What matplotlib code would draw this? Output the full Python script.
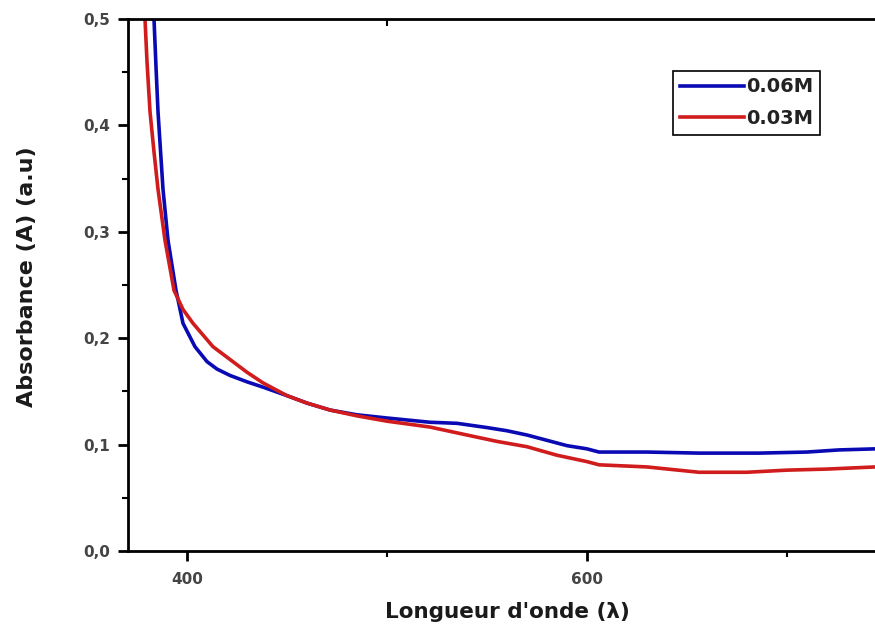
import matplotlib.pyplot as plt
from matplotlib.ticker import MultipleLocator, FuncFormatter

# absorbance spectra
wl_006 = [383.5, 384.5, 385.5, 386.8, 388, 390.5, 394.5, 398, 404, 410, 415, 421.5, 430, 438,
          450, 460, 471.5, 485, 500, 521.5, 535, 550, 560, 570, 580, 590, 600, 606, 630, 656,
          686, 710, 726, 744, 752]
abs_006 = [0.5, 0.455, 0.413, 0.375, 0.34, 0.292, 0.245, 0.214, 0.192, 0.178, 0.171, 0.165, 0.159, 0.154,
           0.146, 0.139, 0.1325, 0.128, 0.125, 0.121, 0.12, 0.116, 0.113, 0.109, 0.104, 0.099, 0.096, 0.093, 0.093, 0.092,
           0.092, 0.093, 0.095, 0.096, 0.096]

wl_003 = [379, 380, 381.5, 383.5, 385.5, 389, 393.5, 398, 403, 413, 421.5, 430, 438, 450,
          460, 471.5, 485, 500, 521.5, 540, 555, 570, 585, 600, 606, 630, 656, 680, 700, 720, 744, 752]
abs_003 = [0.5, 0.46, 0.413, 0.375, 0.34, 0.292, 0.245, 0.227, 0.214, 0.192, 0.18, 0.168, 0.158, 0.146,
           0.139, 0.1325, 0.127, 0.122, 0.1165, 0.109, 0.103, 0.098, 0.090, 0.084, 0.081, 0.079, 0.074, 0.074, 0.076, 0.077, 0.079, 0.080]

labels = ["0.06M", "0.03M"]

plt.rcParams['font.family'] = 'DejaVu Sans'
fig = plt.figure(figsize=(8.75, 6.34), dpi=100)
# axes runs slightly past the right edge like in the original (cropped) picture
ax = fig.add_axes([128/875, 1 - 551/634, (886 - 128)/875, (551 - 19)/634])

ax.plot(wl_006, abs_006, color="#0a0ab4", linewidth=2.6, label=labels[0])
ax.plot(wl_003, abs_003, color="#d01c1c", linewidth=2.6, label=labels[1])

ax.set_xlim(370.5, 749.5)
ax.set_ylim(0, 0.5)

for s in ax.spines.values():
    s.set_linewidth(2)
ax.spines['right'].set_visible(False)

ax.xaxis.set_major_locator(MultipleLocator(200))
ax.xaxis.set_minor_locator(MultipleLocator(100))
ax.yaxis.set_major_locator(MultipleLocator(0.1))
ax.yaxis.set_minor_locator(MultipleLocator(0.05))
ax.yaxis.set_major_formatter(FuncFormatter(lambda v, p: f"{v:.1f}".replace(".", ",")))
ax.tick_params(which='major', direction='out', length=7, width=2, labelsize=11, labelcolor="#444444")
ax.tick_params(axis='x', which='major', pad=8)
ax.tick_params(axis='y', which='major', pad=6)
ax.tick_params(which='minor', direction='out', length=4, width=1.5)
for lab in ax.get_xticklabels() + ax.get_yticklabels():
    lab.set_fontweight('bold')

# the single inward tick on the top spine
top = ax.secondary_xaxis('top')
top.set_xticks([500])
top.tick_params(direction='in', length=5, width=1.5, labeltop=False)
top.spines['top'].set_visible(False)

ax.set_xlabel("Longueur d'onde (λ)", fontsize=15.5, fontweight='bold', color="#1a1a1a")
ax.xaxis.set_label_coords(0.5, -0.095)
ax.set_ylabel("Absorbance (A) (a.u)", fontsize=16, fontweight='bold', color="#1a1a1a")
ax.yaxis.set_label_coords(-0.12, 0.515)

leg = ax.legend(loc='upper left', bbox_to_anchor=(0.719, 0.903),
                prop={'weight': 'bold', 'size': 14}, handlelength=3.3, handletextpad=0.1,
                borderpad=0.35, borderaxespad=0, labelspacing=0.65, fancybox=False, framealpha=1)
leg.get_frame().set_edgecolor('black')
leg.get_frame().set_linewidth(1.2)
for t in leg.get_texts():
    t.set_color("#222222")

fig.savefig("out.png", dpi=100)
